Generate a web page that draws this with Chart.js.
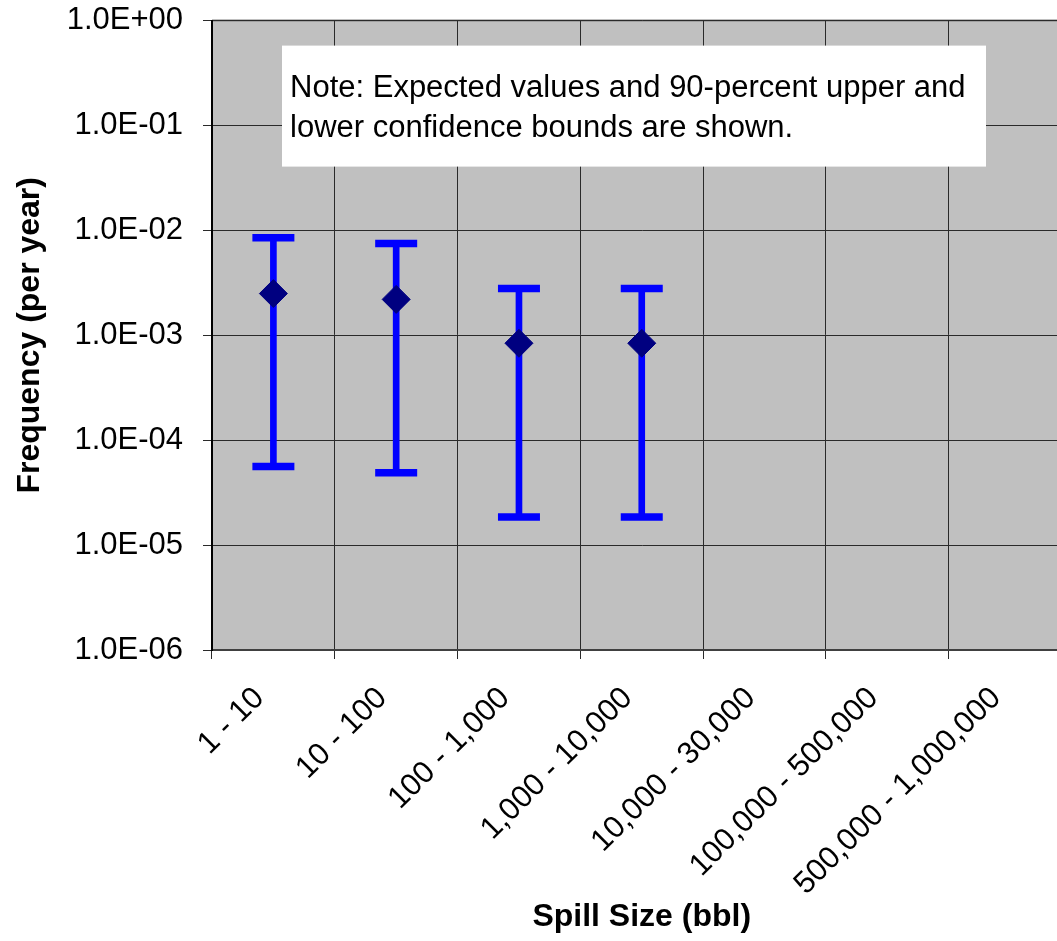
<!DOCTYPE html>
<html>
<head>
<meta charset="utf-8">
<title>Spill Frequency by Spill Size</title>
<script src="https://cdn.jsdelivr.net/npm/chart.js@4/dist/chart.umd.min.js"></script>
<style>
  html, body { margin: 0; padding: 0; background: #ffffff; overflow: hidden; }
  #wrap { width: 1100px; height: 959px; margin-top: -18px; }
</style>
</head>
<body>
<div id="wrap"><canvas id="chart" width="1100" height="959"></canvas></div>
<script>
// Spill size classes (bbl)
const categories = [
  '1 - 10', '10 - 100', '100 - 1,000', '1,000 - 10,000',
  '10,000 - 30,000', '100,000 - 500,000', '500,000 - 1,000,000'
];
// Expected frequency (per year) and 90-percent confidence bounds
const expected = [2.5e-3, 2.2e-3, 8.4e-4, 8.4e-4, null, null, null];
const upper90  = [8.5e-3, 7.5e-3, 2.8e-3, 2.8e-3, null, null, null];
const lower90  = [5.6e-5, 4.9e-5, 1.85e-5, 1.85e-5, null, null, null];

// Decade ticks on the frequency axis
const yTickValues = [1e-6, 1e-5, 1e-4, 1e-3, 1e-2, 1e-1, 1];
const yTickLabels = ['1.0E-06', '1.0E-05', '1.0E-04', '1.0E-03', '1.0E-02', '1.0E-01', '1.0E+00'];

const noteLines = [
  'Note: Expected values and 90-percent upper and',
  'lower confidence bounds are shown.'
];

const FONT = '"Liberation Sans", Arial, sans-serif';
const BLUE = '#0000FF';
const NAVY = '#000080';

// Grey plot background with a grey top frame line
const plotBackground = {
  id: 'plotBackground',
  beforeDraw(chart) {
    const { ctx, chartArea: a } = chart;
    ctx.save();
    ctx.fillStyle = '#C0C0C0';
    ctx.fillRect(a.left, a.top, a.right - a.left, a.bottom - a.top);
    ctx.strokeStyle = '#808080';
    ctx.lineWidth = 2;
    ctx.beginPath();
    ctx.moveTo(a.left, a.top);
    ctx.lineTo(a.right, a.top);
    ctx.stroke();
    ctx.restore();
  }
};

// White note box near the top of the plot area
const noteBox = {
  id: 'noteBox',
  beforeDatasetsDraw(chart) {
    const { ctx, chartArea: a } = chart;
    const x0 = a.left + 70, y0 = a.top + 25;
    ctx.save();
    ctx.fillStyle = '#ffffff';
    ctx.fillRect(x0, y0, 704, 121);
    ctx.fillStyle = '#000000';
    ctx.font = '31px ' + FONT;
    ctx.textAlign = 'left';
    ctx.textBaseline = 'alphabetic';
    noteLines.forEach((line, i) => ctx.fillText(line, x0 + 8, y0 + 51 + i * 40));
    ctx.restore();
  }
};

new Chart(document.getElementById('chart'), {
  type: 'bar',
  data: {
    labels: categories,
    datasets: [
      {
        type: 'line',
        label: 'Expected',
        data: expected,
        showLine: false,
        pointStyle: 'rectRot',
        pointRadius: 14,
        pointBackgroundColor: NAVY,
        pointBorderColor: NAVY,
        pointBorderWidth: 1,
        order: 0
      },
      {
        type: 'line',
        label: 'Upper bound',
        data: upper90,
        showLine: false,
        pointStyle: 'line',
        pointRadius: 21,
        pointBorderColor: BLUE,
        pointBorderWidth: 7.5,
        order: 1
      },
      {
        type: 'line',
        label: 'Lower bound',
        data: lower90,
        showLine: false,
        pointStyle: 'line',
        pointRadius: 21,
        pointBorderColor: BLUE,
        pointBorderWidth: 7.5,
        order: 1
      },
      {
        type: 'bar',
        label: 'Range',
        data: categories.map((_, i) => (lower90[i] == null ? null : [lower90[i], upper90[i]])),
        backgroundColor: BLUE,
        borderWidth: 0,
        barThickness: 6,
        order: 2
      }
    ]
  },
  options: {
    responsive: false,
    animation: false,
    events: [],
    layout: { padding: { top: 2, right: 10.5, left: 0, bottom: 0 } },
    plugins: {
      legend: { display: false },
      tooltip: { enabled: false }
    },
    scales: {
      x: {
        type: 'category',
        offset: true,
        afterFit(s) { s.height = 291; },
        grid: { offset: true, color: '#2a2a2a', lineWidth: 1, tickLength: 9, tickColor: '#2a2a2a' },
        border: { color: '#404040', width: 2 },
        ticks: {
          color: '#000000',
          font: { family: FONT, size: 31 },
          minRotation: 45,
          maxRotation: 45,
          autoSkip: false,
          padding: 21,
          labelOffset: -14
        },
        title: {
          display: true,
          text: 'Spill Size (bbl)',
          color: '#000000',
          font: { family: FONT, size: 32, weight: 'bold', lineHeight: 1.2 },
          padding: { top: 0, bottom: 5 }
        }
      },
      y: {
        type: 'logarithmic',
        min: 1e-6,
        max: 1,
        afterFit(s) { s.width = 212; },
        afterBuildTicks(s) { s.ticks = yTickValues.map(v => ({ value: v })); },
        grid: { color: '#2a2a2a', lineWidth: 1, tickLength: 9, tickColor: '#2a2a2a' },
        border: { color: '#000000', width: 2 },
        ticks: {
          color: '#000000',
          font: { family: FONT, size: 31 },
          padding: 20,
          callback(value) {
            const i = yTickValues.findIndex(v => Math.abs(Math.log10(v) - Math.log10(value)) < 1e-6);
            return i >= 0 ? yTickLabels[i] : '';
          }
        },
        title: {
          display: true,
          text: 'Frequency (per year)',
          color: '#000000',
          font: { family: FONT, size: 32, weight: 'bold', lineHeight: 1.2 },
          padding: { top: 11, bottom: 0 }
        }
      }
    }
  },
  plugins: [plotBackground, noteBox]
});
</script>
</body>
</html>
